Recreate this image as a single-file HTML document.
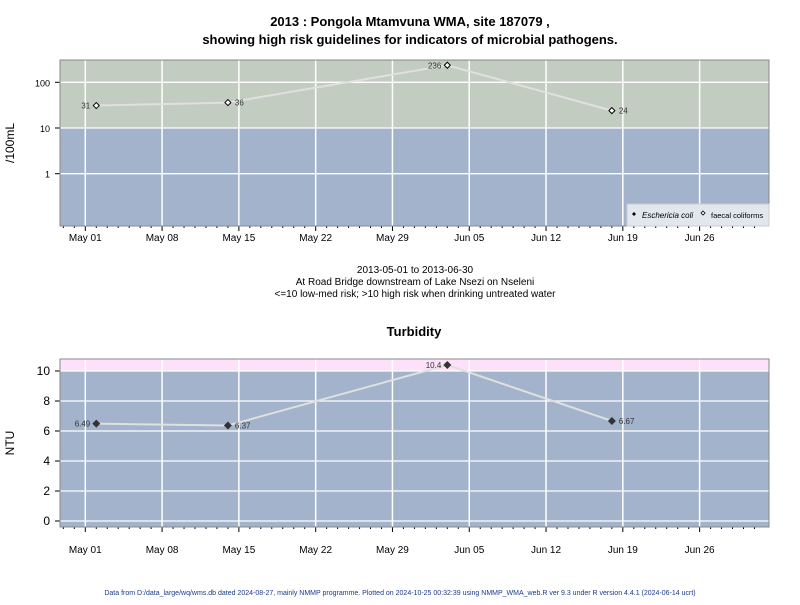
<!DOCTYPE html>
<html><head><meta charset="utf-8"><style>
body{margin:0;background:#fff;font-family:"Liberation Sans",Arial,sans-serif}
svg text{font-family:"Liberation Sans",Arial,sans-serif}
</style></head><body>
<svg id="c" width="800" height="600" xmlns="http://www.w3.org/2000/svg">
<text x="410" y="26" text-anchor="middle" font-size="13" font-weight="bold">2013 : Pongola Mtamvuna WMA, site 187079 ,</text>
<text x="410" y="44" text-anchor="middle" font-size="13" font-weight="bold">showing high risk guidelines for indicators of microbial pathogens.</text>
<text x="415" y="273" text-anchor="middle" font-size="10">2013-05-01 to 2013-06-30</text>
<text x="415" y="285" text-anchor="middle" font-size="10">At Road Bridge downstream of Lake Nsezi on Nseleni</text>
<text x="415" y="297" text-anchor="middle" font-size="10">&lt;=10 low-med risk; &gt;10 high risk when drinking untreated water</text>
<text x="414" y="336" text-anchor="middle" font-size="13" font-weight="bold">Turbidity</text>
<text transform="translate(14,143) rotate(-90)" text-anchor="middle" font-size="12">/100mL</text>
<text transform="translate(14,443) rotate(-90)" text-anchor="middle" font-size="12">NTU</text>
<text x="400" y="595" text-anchor="middle" font-size="7" fill="#1a3a8a">Data from D:/data_large/wq/wms.db dated 2024-08-27, mainly NMMP programme. Plotted on 2024-10-25 00:32:39 using NMMP_WMA_web.R ver 9.3 under R version 4.4.1 (2024-06-14 ucrt)</text>
<g id="topPanel"></g><g id="botPanel"></g>
</svg>
<script>
const xTickLabels=["May 01","May 08","May 15","May 22","May 29","Jun 05","Jun 12","Jun 19","Jun 26"];
const sampleDays=[1,13,33,48];
const faecalValues=[31,36,236,24];
const faecalLabels=["31","36","236","24"];
const turbValues=[6.49,6.37,10.4,6.67];
const turbLabels=["6.49","6.37","10.4","6.67"];
const topYTicks=[1,10,100];
const botYTicks=[0,2,4,6,8,10];
const NS="http://www.w3.org/2000/svg";
const L=60,R=769;
const xS=d=>85.3+10.97*d;
function mk(p,t,a,txt){const e=document.createElementNS(NS,t);for(const k in a)e.setAttribute(k,a[k]);if(txt!==undefined)e.textContent=txt;p.appendChild(e);return e;}
function panel(g,T,B,yS,yTicks,threshold,highCol,lowCol,vals,labs,filled,tickY,prefix){
  const r1=mk(g,'rect',{x:L,y:T,width:R-L,height:yS(threshold)-T,fill:highCol});
  
  const r2=mk(g,'rect',{x:L,y:yS(threshold),width:R-L,height:B-yS(threshold),fill:lowCol});
  
  yTicks.forEach(v=>{const y=yS(v);
    const l=mk(g,'line',{x1:L,x2:R,y1:y,y2:y,stroke:'#fff','stroke-width':1.3});
    
    mk(g,'line',{x1:L-5,x2:L,y1:y,y2:y,stroke:'#000'});
    const t=mk(g,'text',{x:L-10,y:y+4,'text-anchor':'end','font-size':prefix==='top'?9:12},String(v));
    });
  xTickLabels.forEach((s,i)=>{const x=xS(i*7);
    const l=mk(g,'line',{x1:x,x2:x,y1:T,y2:B,stroke:'#fff','stroke-width':1.5});
    
    mk(g,'line',{x1:x,x2:x,y1:B,y2:B+5,stroke:'#000'});
    const t=mk(g,'text',{x:x,y:tickY,'text-anchor':'middle','font-size':10},s);
    });
  for(let d=-2;d<62;d++){if(d%7===0)continue;const x=xS(d);if(x<L||x>R)continue;mk(g,'line',{x1:x,x2:x,y1:B,y2:B+2,stroke:'#000'});}
  mk(g,'rect',{x:L,y:T,width:R-L,height:B-T,fill:'none',stroke:'#888'});
  const pts=vals.map((v,i)=>xS(sampleDays[i])+','+yS(v)).join(' ');
  const pl=mk(g,'polyline',{points:pts,fill:'none',stroke:'#e0e0e0','stroke-width':2});
  
  vals.forEach((v,i)=>{const x=xS(sampleDays[i]),y=yS(v);
    const p=filled?mk(g,'path',{d:`M${x},${y-4}L${x+4},${y}L${x},${y+4}L${x-4},${y}Z`,fill:'#333'}):mk(g,'path',{d:`M${x},${y-3}L${x+3},${y}L${x},${y+3}L${x-3},${y}Z`,fill:'#fff',stroke:'#000'});
    
    const left=(i===0||i===2);
    const t=mk(g,'text',{x:left?x-6:x+7,y:y+3,'text-anchor':left?'end':'start','font-size':8,fill:'#333'},labs[i]);
    });
}
const topG=document.getElementById('topPanel'),botG=document.getElementById('botPanel');
panel(topG,60,226,v=>128-45.7*Math.log10(v/10),topYTicks,10,'#c3ccc0','#a2b3cb',faecalValues,faecalLabels,false,241,'top');
panel(botG,359,527,v=>521-15*v,botYTicks,10,'#fde0fa','#a2b3cb',turbValues,turbLabels,true,553,'bottom');
const lg=mk(topG,'g',{});


mk(lg,'rect',{x:627,y:204,width:142,height:22,fill:'#e2e6ee',stroke:'#ccc'});
mk(lg,'path',{d:'M634,212L636,214L634,216L632,214Z',fill:'#000'});
const t1=mk(lg,'text',{x:642,y:218,'font-size':8,'font-style':'italic'},'Eschericia coli');


mk(lg,'path',{d:'M703,211L705,213L703,215L701,213Z',fill:'#fff',stroke:'#000','stroke-width':0.8});
const t2=mk(lg,'text',{x:711,y:218,'font-size':7.5},'faecal coliforms');


</script>
</body></html>
